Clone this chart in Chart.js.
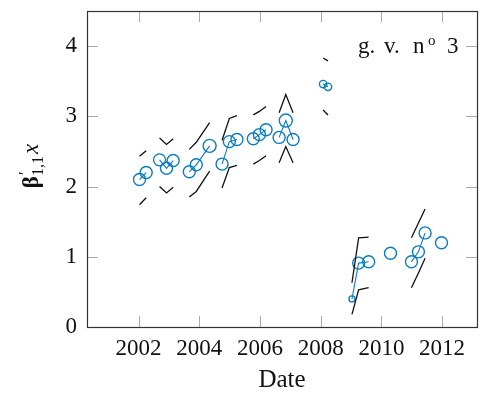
<!DOCTYPE html>
<html>
<head>
<meta charset="utf-8">
<script src="https://cdn.jsdelivr.net/npm/chart.js@4/dist/chart.umd.min.js"></script>
<style>
  body { margin: 0; background: #fff; }
  canvas { display: block; }
</style>
</head>
<body>
<canvas id="chart" width="480" height="396"></canvas>
<script>
// Data
const dates = [2002.03, 2002.25, 2002.69, 2002.92, 2003.14, 2003.67, 2003.90, 2004.34,
  2004.75, 2004.99, 2005.24, 2005.78, 2005.98, 2006.20, 2006.63, 2006.85, 2007.09,
  2008.08, 2008.24, 2009.03, 2009.25, 2009.58, 2010.30, 2010.99, 2011.22, 2011.44, 2011.98];
const beta = [2.10, 2.20, 2.38, 2.26, 2.37, 2.21, 2.31, 2.58,
  2.32, 2.64, 2.67, 2.68, 2.74, 2.81, 2.70, 2.94, 2.67,
  3.46, 3.42, 0.40, 0.91, 0.93, 1.05, 0.93, 1.07, 1.34, 1.20];
// which run each point belongs to (points of a run are joined)
const runs = [0, 0, 1, 1, 1, 2, 2, 2, 3, 3, 3, 4, 4, 4, 5, 5, 5, 6, 6, 7, 7, 7, 8, 9, 9, 9, 10];
const upper = [2.43, 2.51, 2.69, 2.60, 2.68, 2.53, 2.63, 2.91,
  2.66, 2.97, 3.01, 3.02, 3.07, 3.14, 3.05, 3.31, 3.05,
  3.83, 3.79, 0.63, 1.27, 1.28, null, 1.27, 1.48, 1.68, null];
const lower = [1.74, 1.84, 2.00, 1.91, 1.99, 1.85, 1.93, 2.22,
  1.98, 2.27, 2.30, 2.32, 2.37, 2.44, 2.34, 2.57, 2.34,
  3.09, 3.02, 0.18, 0.53, 0.56, null, 0.56, 0.77, 0.98, null];
const sizes = [6, 6, 6, 6, 6, 6, 6, 6.5, 6, 6, 6, 6, 6, 6, 6, 6.5, 6, 3.7, 3.7, 3, 6, 6, 6, 6, 6, 6, 6];
const xTicks = [2002, 2004, 2006, 2008, 2010, 2012];
const yTicks = [0, 1, 2, 3, 4];

const blue = '#0a7dbf';
const serif = "'Liberation Serif', 'DejaVu Serif', serif";

// Build one blue dataset per run, plus upper/lower black bands
let datasets = [];
let runIds = [...new Set(runs)];
runIds.forEach(r => {
  let idx = runs.map((g, i) => g === r ? i : -1).filter(i => i >= 0);
  if (upper[idx[0]] !== null) {
    [upper, lower].forEach(band => {
      datasets.push({
        data: idx.map(i => ({x: dates[i], y: band[i]})),
        showLine: true,
        borderColor: '#111',
        borderWidth: 1.3,
        pointRadius: 0
      });
    });
  }
  datasets.push({
    data: idx.map(i => ({x: dates[i], y: beta[i]})),
    showLine: true,
    borderColor: blue,
    borderWidth: 1.1,
    backgroundColor: 'rgba(0,0,0,0)',
    pointRadius: idx.map(i => sizes[i]),
    pointBorderColor: blue,
    pointBorderWidth: 1.4,
    pointBackgroundColor: 'rgba(0,0,0,0)'
  });
});

// Frame, inward ticks and the extra texts
const decorations = {
  id: 'decorations',
  beforeDatasetsDraw(chart) {
    let ctx = chart.ctx;
    let a = chart.chartArea;
    let xs = chart.scales.x, ys = chart.scales.y;
    ctx.save();
    ctx.strokeStyle = '#aaa';
    ctx.lineWidth = 1;
    ctx.beginPath();
    xTicks.forEach(v => {
      let px = Math.round(xs.getPixelForValue(v)) + 0.5;
      ctx.moveTo(px, a.bottom); ctx.lineTo(px, a.bottom - 11);
      ctx.moveTo(px, a.top); ctx.lineTo(px, a.top + 11);
    });
    yTicks.forEach(v => {
      let py = Math.round(ys.getPixelForValue(v)) + 0.5;
      ctx.moveTo(a.left, py); ctx.lineTo(a.left + 11, py);
      ctx.moveTo(a.right, py); ctx.lineTo(a.right - 11, py);
    });
    ctx.stroke();
    ctx.restore();
  },
  afterDraw(chart) {
    let ctx = chart.ctx;
    let a = chart.chartArea;
    ctx.save();
    ctx.strokeStyle = '#333';
    ctx.lineWidth = 1.2;
    ctx.strokeRect(Math.round(a.left) + 0.5, Math.round(a.top) + 0.5,
      Math.round(a.right - a.left), Math.round(a.bottom - a.top));

    // "g. v. n° 3" label, word by word
    ctx.fillStyle = '#111';
    ctx.textBaseline = 'alphabetic';
    ctx.textAlign = 'left';
    ctx.font = '23px ' + serif;
    ctx.fillText('g.', 358, 53);
    ctx.fillText('v.', 384, 53);
    ctx.fillText('n', 413, 53);
    ctx.fillText('3', 447, 53);
    ctx.font = '15px ' + serif;
    ctx.fillText('o', 428, 45);

    // y axis title: bold beta, prime, subscript 1,1, italic x
    ctx.translate(38, 166);
    ctx.rotate(-Math.PI / 2);
    let parts = [
      {t: 'β', f: 'bold 23px ' + serif, dy: 0},
      {t: '′', f: '17px ' + serif, dy: -8},
      {t: '1,1', f: '16px ' + serif, dy: 5},
      {t: 'x', f: 'italic 23px ' + serif, dy: 0}
    ];
    parts.forEach(p => { ctx.font = p.f; p.w = ctx.measureText(p.t).width; });
    let mid = Math.max(parts[1].w, parts[2].w);
    let total = parts[0].w + mid + parts[3].w + 2;
    let cx = -total / 2;
    ctx.font = parts[0].f; ctx.fillText(parts[0].t, cx, 0);
    cx += parts[0].w;
    ctx.font = parts[1].f; ctx.fillText(parts[1].t, cx + 1, parts[1].dy);
    ctx.font = parts[2].f; ctx.fillText(parts[2].t, cx, parts[2].dy);
    cx += mid + 2;
    ctx.font = parts[3].f; ctx.fillText(parts[3].t, cx, 0);
    ctx.restore();
  }
};

new Chart(document.getElementById('chart'), {
  type: 'scatter',
  data: { datasets: datasets },
  plugins: [decorations],
  options: {
    responsive: false,
    devicePixelRatio: 1,
    animation: false,
    layout: { autoPadding: false, padding: { top: 11, right: 3, left: 0, bottom: 0 } },
    plugins: { legend: { display: false }, tooltip: { enabled: false } },
    scales: {
      x: {
        type: 'linear',
        min: 2000.3,
        max: 2013.15,
        afterFit: s => { s.height = 69; s.paddingLeft = 0; s.paddingRight = 0; },
        afterBuildTicks: s => { s.ticks = xTicks.map(v => ({value: v})); },
        grid: { display: false, drawTicks: false },
        border: { display: false },
        ticks: {
          color: '#111',
          padding: 8,
          maxRotation: 0,
          font: { family: serif, size: 23 },
          callback: v => String(v)
        },
        title: {
          display: true,
          text: 'Date',
          color: '#111',
          padding: { top: 0, bottom: 1 },
          font: { family: serif, size: 25 }
        }
      },
      y: {
        min: 0,
        max: 4.5,
        afterFit: s => { s.width = 87; s.paddingTop = 0; s.paddingBottom = 0; },
        afterBuildTicks: s => { s.ticks = yTicks.map(v => ({value: v})); },
        grid: { display: false, drawTicks: false },
        border: { display: false },
        ticks: {
          color: '#111',
          padding: 10,
          font: { family: serif, size: 23 },
          callback: v => String(v)
        }
      }
    }
  }
});
</script>
</body>
</html>
